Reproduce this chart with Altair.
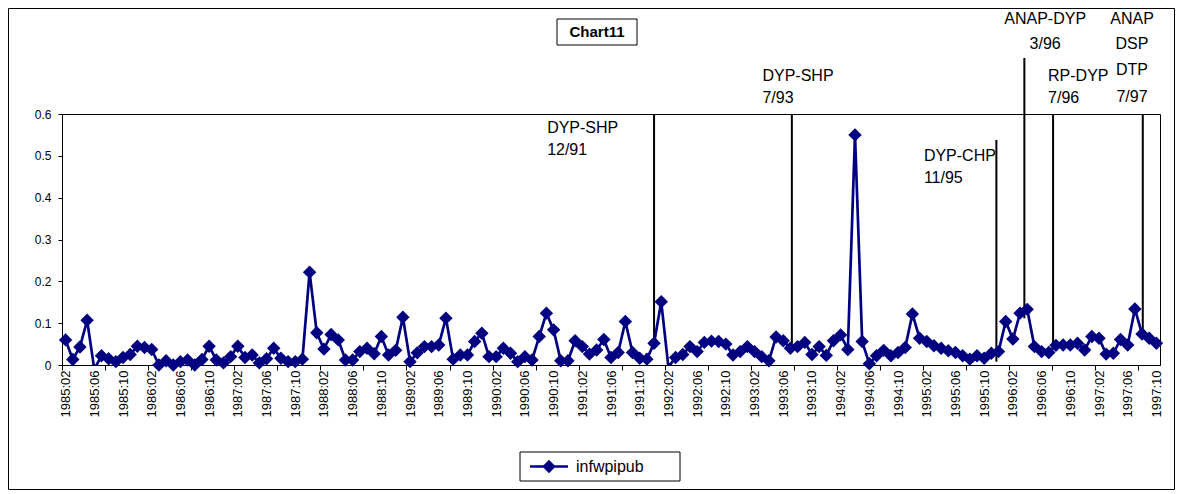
import altair as alt
import pandas as pd

series_name = "infwpipub"
chart_title = "Chart11"
start_year = 1985
start_month = 2

# monthly values, 1985:02 .. 1997:10 (negative = clipped below the axis)
values = [
    0.060, 0.013, 0.043, 0.107, -0.010, 0.022, 0.015, 0.008, 0.018, 0.025,
    0.045, 0.042, 0.037, 0.000, 0.010, 0.000, 0.008, 0.012, 0.000, 0.013,
    0.045, 0.012, 0.005, 0.020, 0.045, 0.018, 0.024, 0.005, 0.015, 0.040,
    0.016, 0.008, 0.008, 0.014, 0.222, 0.077, 0.038, 0.073, 0.060, 0.012,
    0.012, 0.032, 0.040, 0.027, 0.068, 0.024, 0.035, 0.114, 0.008, 0.029,
    0.044, 0.044, 0.048, 0.112, 0.014, 0.024, 0.024, 0.056, 0.076, 0.020,
    0.020, 0.040, 0.028, 0.008, 0.020, 0.012, 0.068, 0.124, 0.084, 0.010,
    0.010, 0.058, 0.044, 0.026, 0.036, 0.061, 0.018, 0.030, 0.104, 0.030,
    0.016, 0.014, 0.052, 0.151, -0.005, 0.018, 0.025, 0.044, 0.032, 0.054,
    0.057, 0.056, 0.050, 0.024, 0.032, 0.044, 0.032, 0.020, 0.010, 0.067,
    0.058, 0.040, 0.044, 0.054, 0.025, 0.044, 0.023, 0.058, 0.072, 0.037,
    0.550, 0.056, 0.003, 0.022, 0.035, 0.022, 0.030, 0.042, 0.122, 0.064,
    0.056, 0.046, 0.040, 0.034, 0.030, 0.022, 0.014, 0.022, 0.016, 0.028,
    0.032, 0.104, 0.062, 0.124, 0.133, 0.044, 0.032, 0.030, 0.047, 0.048,
    0.048, 0.052, 0.036, 0.068, 0.064, 0.026, 0.028, 0.061, 0.048, 0.134,
    0.074, 0.064, 0.052,
]
month_index = list(range(len(values)))

label_months = list(range(0, len(values), 4))
tick_months = [k * 6 - 0.5 for k in range(26)]
y_ticks = [0, 0.1, 0.2, 0.3, 0.4, 0.5, 0.6]

# political event markers (month index position, top and bottom of the line)
event_x = [82.0, 101.2, 129.7, 133.6, 137.6, 150.1]
event_top = [0.6, 0.6, 0.538, 0.734, 0.6, 0.6]
event_bottom = [0.056, 0.04, 0.008, 0.112, 0.04, 0.084]

ann_text = ["DYP-SHP", "12/91", "DYP-SHP", "7/93", "DYP-CHP", "11/95",
            "ANAP-DYP", "3/96", "RP-DYP", "7/96", "ANAP", "DSP", "DTP", "7/97"]
ann_x = [67.1, 67.1, 97.1, 97.1, 119.6, 119.6, 136.5, 136.5, 136.9, 136.9,
         148.6, 148.6, 148.6, 148.6]
ann_y = [0.567, 0.514, 0.691, 0.639, 0.500, 0.447, 0.828, 0.768, 0.691, 0.639,
         0.828, 0.768, 0.706, 0.641]
ann_align = ["left"] * 6 + ["center"] * 2 + ["left"] * 2 + ["center"] * 4

NAVY = "#000080"
FONT = "Liberation Sans"

df = pd.DataFrame({"m": month_index, "v": values})
events = pd.DataFrame({"x": event_x, "top": event_top, "bottom": event_bottom})
ann = pd.DataFrame({"x": ann_x, "y": ann_y, "t": ann_text, "a": ann_align})
one = pd.DataFrame({"k": [0]})

x_scale = alt.Scale(domain=[-0.5, len(values) - 0.5], nice=False, zero=False)
y_scale = alt.Scale(domain=[0, 0.6], nice=False, zero=False)

y_axis = alt.Axis(values=y_ticks, title=None, grid=False, tickSize=4, labelPadding=7,
                  labelExpr="datum.value == 0 ? '0' : format(datum.value, '.1f')",
                  labelFont=FONT, labelFontSize=12, labelColor="black",
                  domainColor="black", tickColor="black")

off = start_month - 1
label_expr = (
    f"(floor((datum.value + {off}) / 12) + {start_year}) + ':' + "
    f"(((datum.value + {off}) % 12) + 1 < 10 ? '0' : '') + (((datum.value + {off}) % 12) + 1)"
)

x_label_axis = alt.Axis(values=label_months, labelExpr=label_expr, labelAngle=270,
                        ticks=False, grid=False, title=None, domainColor="black",
                        labelFont=FONT, labelFontSize=13, labelColor="black",
                        labelPadding=5, orient="bottom", labelOverlap=False,
                        labelBound=False, labelFlush=False)
x_tick_axis = alt.Axis(values=tick_months, labels=False, ticks=True, tickSize=5,
                       domain=False, grid=False, title=None, tickColor="black",
                       orient="bottom")

rules = alt.Chart(events).mark_rule(color="black", strokeWidth=2).encode(
    x=alt.X("x:Q", scale=x_scale, axis=None),
    y=alt.Y("top:Q", scale=y_scale, axis=y_axis),
    y2="bottom:Q",
)

line = alt.Chart(df).mark_line(color=NAVY, strokeWidth=2.7, clip=True).encode(
    x=alt.X("m:Q", scale=x_scale, axis=x_label_axis),
    y=alt.Y("v:Q", scale=y_scale, axis=y_axis),
)

points = alt.Chart(df).transform_filter("datum.v >= 0").mark_point(
    shape="diamond", filled=True, size=180, color=NAVY, opacity=1
).encode(
    x=alt.X("m:Q", scale=x_scale, axis=x_tick_axis),
    y=alt.Y("v:Q", scale=y_scale, axis=y_axis),
)

ann_left = alt.Chart(ann).transform_filter("datum.a == 'left'").mark_text(
    align="left", baseline="middle", font=FONT, fontSize=16, color="black"
).encode(
    x=alt.X("x:Q", scale=x_scale, axis=None),
    y=alt.Y("y:Q", scale=y_scale, axis=y_axis),
    text="t:N",
)
ann_center = alt.Chart(ann).transform_filter("datum.a == 'center'").mark_text(
    align="center", baseline="middle", font=FONT, fontSize=16, color="black"
).encode(
    x=alt.X("x:Q", scale=x_scale, axis=None),
    y=alt.Y("y:Q", scale=y_scale, axis=y_axis),
    text="t:N",
)

# decorations: outer frame, title box, legend box
outer = alt.Chart(one).mark_rect(fill="transparent", stroke="black", strokeWidth=1).encode(
    x=alt.value(-53.5), x2=alt.value(1112.5), y=alt.value(-105.5), y2=alt.value(375.5))
title_box = alt.Chart(one).mark_rect(fill="white", stroke="black", strokeWidth=1).encode(
    x=alt.value(495), x2=alt.value(575), y=alt.value(-95), y2=alt.value(-69))
title_txt = alt.Chart(one).mark_text(
    align="center", baseline="middle", font=FONT, fontSize=15, fontWeight="bold", color="black"
).encode(x=alt.value(535), y=alt.value(-82), text=alt.value(chart_title))
leg_box = alt.Chart(one).mark_rect(fill="white", stroke="black", strokeWidth=1).encode(
    x=alt.value(458), x2=alt.value(618), y=alt.value(338), y2=alt.value(367))
leg_line = alt.Chart(one).mark_rule(color=NAVY, strokeWidth=2.7).encode(
    x=alt.value(468), x2=alt.value(506), y=alt.value(352.5))
leg_pt = alt.Chart(one).mark_point(shape="diamond", filled=True, size=180, color=NAVY, opacity=1).encode(
    x=alt.value(487), y=alt.value(352.5))
leg_txt = alt.Chart(one).mark_text(
    align="left", baseline="middle", font=FONT, fontSize=16, color="black"
).encode(x=alt.value(514), y=alt.value(352.5), text=alt.value(series_name))

chart = alt.layer(
    outer, rules, line, points, ann_left, ann_center,
    title_box, title_txt, leg_box, leg_line, leg_pt, leg_txt,
).resolve_axis(x="independent").properties(
    width=1098, height=251, autosize="none",
    padding={"left": 54, "top": 106, "right": 15, "bottom": 125},
    background="white",
).configure_view(stroke="black", strokeWidth=1)

chart.save("out.html", embed_options={"renderer": "svg", "actions": False})
